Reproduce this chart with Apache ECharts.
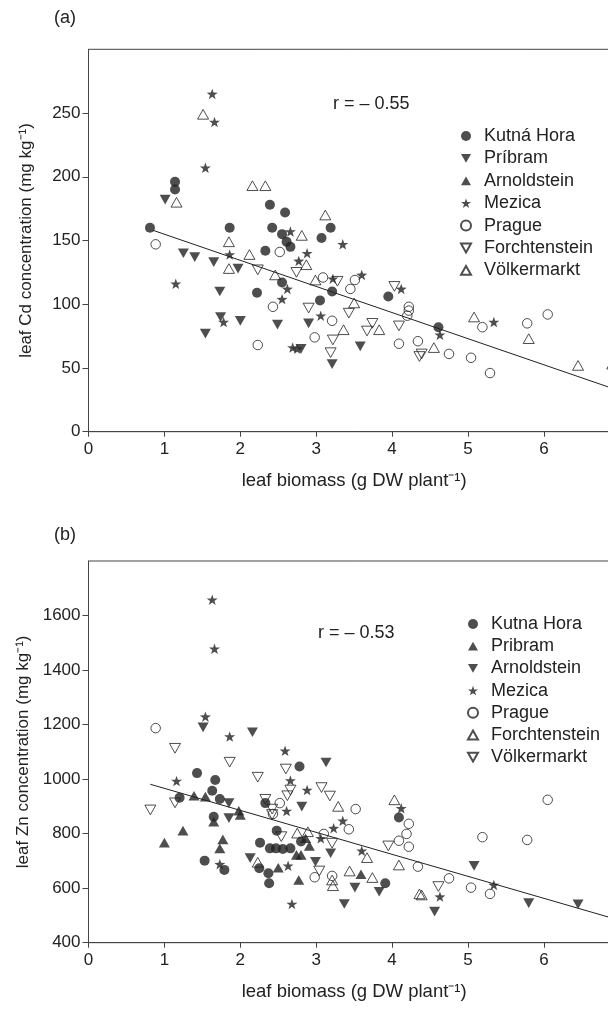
<!DOCTYPE html>
<html><head><meta charset="utf-8">
<script src="https://cdn.jsdelivr.net/npm/echarts@6/dist/echarts.min.js"></script>
<style>html,body{margin:0;padding:0;background:#fff;overflow:hidden;width:608px;height:1011px}#c{width:626px;height:1011px}</style>
</head><body><div id="c"></div>
<script>
// ---------- Panel (a): leaf Cd ----------
const xTicks = [0,1,2,3,4,5,6];
const cdTicks = [0,50,100,150,200,250];
const znTicks = [400,600,800,1000,1200,1400,1600];
const cdNames = ['Kutná Hora','Príbram','Arnoldstein','Mezica','Prague','Forchtenstein','Völkermarkt'];
const znNames = ['Kutna Hora','Pribram','Arnoldstein','Mezica','Prague','Forchtenstein','Völkermarkt'];

const cdKutnaHora = [[0.81,160],[1.14,196],[1.14,190],[1.86,160],[2.39,178],[2.59,172],[2.42,160],[2.55,155],[2.61,149],[2.66,145],[3.07,152],[3.19,160],[2.33,142],[2.55,117],[2.22,109],[3.05,103],[3.21,110],[3.95,106],[4.61,82]];
const cdPribram = [[1.01,182],[1.25,140],[1.40,137],[1.65,133],[1.97,128],[1.73,110],[1.74,90],[2.00,87],[1.54,77],[2.49,84],[2.90,85],[2.80,65],[3.21,53],[3.58,67]];
const cdArnoldstein = [];
const cdMezica = [[1.63,265],[1.66,243],[1.54,207],[1.15,116],[1.86,139],[2.66,157],[2.88,140],[2.77,134],[3.35,147],[2.62,112],[2.55,104],[3.06,91],[1.78,86],[2.69,66],[2.75,65],[3.22,120],[3.60,123],[4.12,112],[4.63,76],[5.34,86]];
const cdPrague = [[0.885,147],[2.52,141],[3.09,121],[2.43,98],[3.21,87],[2.23,68],[2.98,74],[3.51,119],[3.45,112],[4.22,98],[4.22,95],[4.20,91],[4.09,69],[4.34,71],[4.75,61],[5.04,58],[5.29,46],[5.19,82],[5.78,85],[6.05,92]];
const cdForchtenstein = [[2.74,125],[2.23,127],[3.28,118],[2.90,97],[3.43,93],[3.22,72],[3.19,62],[3.74,85],[3.67,79],[4.03,114],[4.09,83],[4.36,59],[4.39,61]];
const cdVolkermarkt = [[1.51,249],[1.16,180],[2.16,193],[2.33,193],[3.12,170],[2.81,154],[1.85,149],[2.12,139],[1.85,128],[2.87,131],[2.46,123],[2.99,119],[3.36,80],[3.50,101],[3.83,80],[4.55,66],[5.08,90],[5.80,73],[6.45,52],[6.9,53]];
const cdFit = [[0.85,158],[7,32]];

// ---------- Panel (b): leaf Zn ----------
const znKutnaHora = [[1.43,1022],[1.67,997],[1.63,957],[1.20,932],[1.73,927],[1.65,862],[1.53,701],[1.79,667],[2.33,912],[2.78,1046],[2.48,811],[2.26,767],[2.39,746],[2.47,746],[2.56,744],[2.66,746],[2.80,771],[2.25,673],[2.37,655],[2.38,618],[3.91,618],[4.09,859]];
const znPribram = [[1.00,767],[1.245,811],[1.39,939],[1.54,936],[1.98,884],[2.00,869],[1.65,844],[1.77,779],[1.73,746],[2.50,675],[2.77,630],[2.74,722],[2.80,722],[2.86,783],[2.91,755],[3.59,651]];
const znArnoldstein = [[1.51,1190],[2.16,1172],[3.13,1061],[1.85,912],[1.85,857],[2.81,899],[3.19,728],[2.13,710],[2.99,697],[3.37,542],[3.51,602],[3.83,587],[4.56,514],[5.08,682],[5.80,545],[6.45,541]];
const znMezica = [[1.63,1658],[1.66,1478],[1.54,1229],[1.86,1156],[2.59,1104],[2.66,995],[1.16,993],[2.61,883],[2.88,960],[3.35,847],[3.23,820],[3.06,783],[2.63,682],[1.73,688],[2.68,542],[3.60,737],[4.12,893],[4.63,569],[5.34,612]];
const znPrague = [[0.885,1187],[2.52,912],[2.43,872],[3.10,799],[2.98,640],[3.21,645],[3.43,816],[3.52,890],[4.22,836],[4.19,799],[4.09,774],[4.22,752],[4.34,679],[4.75,636],[5.04,602],[5.29,579],[5.19,787],[5.78,777],[6.05,924]];
const znForchtenstein = [[2.75,802],[2.89,807],[3.29,900],[2.23,695],[3.21,630],[3.22,609],[3.67,712],[3.44,663],[3.74,639],[4.03,924],[4.09,685],[4.36,579],[4.39,575]];
const znVolkermarkt = [[1.14,1113],[1.86,1062],[2.23,1007],[2.60,1037],[1.14,913],[0.815,887],[2.33,926],[2.42,890],[2.42,870],[2.62,939],[2.66,960],[3.07,969],[3.18,938],[2.54,789],[3.21,765],[3.04,663],[3.95,755],[4.61,606]];
const znFit = [[0.815,981],[7,482]];

const INK = '#222';
const STAR = 'path://M0,-10 L2.35,-3.24 L9.51,-3.09 L3.8,1.24 L5.88,8.09 L0,4 L-5.88,8.09 L-3.8,1.24 L-9.51,-3.09 L-2.35,-3.24 Z';
const TUP = 'path://M5,0 L10,8.8 L0,8.8 Z';
const TDN = 'path://M0,0 L10,0 L5,8.8 Z';
const ST = {
  fc: {symbol:'circle', fill:true, size:10},
  fu: {symbol:TUP, fill:true, size:11},
  fd: {symbol:TDN, fill:true, size:11},
  st: {symbol:STAR, fill:true, size:11},
  oc: {symbol:'circle', fill:false, size:9.5},
  ou: {symbol:TUP, fill:false, size:11},
  od: {symbol:TDN, fill:false, size:11}
};
const ZW = '\u200b';
function sc(name, data, s, idx) {
  return {
    type:'scatter', name:name, data:data, xAxisIndex:idx, yAxisIndex:idx,
    symbol:s.symbol, symbolSize:s.size, symbolKeepAspect:true, z:3,
    itemStyle: s.fill ? {color:INK, borderWidth:0} : {color:'rgba(255,255,255,0)', borderColor:INK, borderWidth:1},
    emphasis:{disabled:true}
  };
}
function fit(data, idx) {
  return {type:'line', data:data, xAxisIndex:idx, yAxisIndex:idx, symbol:'none',
    lineStyle:{color:INK, width:1}, z:2, silent:true};
}
const cdStyles = [ST.fc, ST.fd, ST.fu, ST.st, ST.oc, ST.od, ST.ou];
const znStyles = [ST.fc, ST.fu, ST.fd, ST.st, ST.oc, ST.ou, ST.od];
const cdData = [cdKutnaHora, cdPribram, cdArnoldstein, cdMezica, cdPrague, cdForchtenstein, cdVolkermarkt];
const znData = [znKutnaHora, znPribram, znArnoldstein, znMezica, znPrague, znForchtenstein, znVolkermarkt];
const znSeriesNames = znNames.map(n => n + ZW);

const series = [];
cdNames.forEach((n,i) => series.push(sc(n, cdData[i], cdStyles[i], 0)));
series.push(fit(cdFit, 0));
znSeriesNames.forEach((n,i) => series.push(sc(n, znData[i], znStyles[i], 1)));
series.push(fit(znFit, 1));

const FONT = 'Liberation Sans, Arial, sans-serif';
function xAx(idx) {
  return {gridIndex:idx, type:'value', min:0, max:7, interval:1,
    name:'leaf biomass (g DW plant⁻¹)', nameLocation:'middle', nameGap:40,
    nameTextStyle:{fontFamily:FONT, fontSize:18.5, color:INK},
    axisLine:{onZero:false, lineStyle:{color:'#444', width:1}},
    axisTick:{show:true, length:5, lineStyle:{color:'#444'}},
    axisLabel:{fontFamily:FONT, fontSize:17, color:INK, margin:9,
      formatter: v => xTicks.includes(v) ? String(v) : ''},
    splitLine:{show:false}};
}
function yAx(idx, min, max, iv, ticks, title) {
  return {gridIndex:idx, type:'value', min:min, max:max, interval:iv,
    name:title, nameLocation:'middle', nameGap:54, nameRotate:90,
    nameTextStyle:{fontFamily:FONT, fontSize:17, color:INK},
    axisLine:{onZero:false, lineStyle:{color:'#444', width:1}},
    axisTick:{show:true, length:6, lineStyle:{color:'#444'}},
    axisLabel:{fontFamily:FONT, fontSize:17, color:INK, margin:8, showMaxLabel:false,
      formatter: v => ticks.includes(v) ? String(v) : ''},
    splitLine:{show:false}};
}
function legend(names, top, left, gap) {
  return {orient:'vertical', left:left, top:top, itemWidth:10, itemHeight:10, itemGap:gap,
    data:names, selectedMode:false, symbolKeepAspect:true,
    formatter: n => n.replace(ZW,''),
    textStyle:{fontFamily:FONT, fontSize:18, color:INK, padding:[0,0,0,8]}};
}

const option = {
  animation:false,
  backgroundColor:'#fff',
  grid:[
    {left:88.5, width:531.3, top:49.3, height:382.4, show:true, borderColor:'#444', borderWidth:1, containLabel:false},
    {left:88.5, width:531.3, top:561, height:381.7, show:true, borderColor:'#444', borderWidth:1, containLabel:false}
  ],
  xAxis:[xAx(0), xAx(1)],
  yAxis:[
    yAx(0, 0, 300, 50, cdTicks, 'leaf Cd concentration (mg kg⁻¹)'),
    yAx(1, 400, 1800, 200, znTicks, 'leaf Zn concentration (mg kg⁻¹)')
  ],
  legend:[legend(cdNames, 122, 455, 4.4), legend(znSeriesNames, 610, 462, 4.2)],
  graphic:[
    {type:'text', left:54, top:9, style:{text:'(a)', font:'18px '+FONT, fill:INK}},
    {type:'text', left:54, top:526, style:{text:'(b)', font:'18px '+FONT, fill:INK}},
    {type:'text', left:333, top:95, style:{text:'r = – 0.55', font:'18px '+FONT, fill:INK}},
    {type:'text', left:318, top:624, style:{text:'r = – 0.53', font:'18px '+FONT, fill:INK}}
  ],
  series:series
};
const chart = echarts.init(document.getElementById('c'));
chart.setOption(option);
</script></body></html>
